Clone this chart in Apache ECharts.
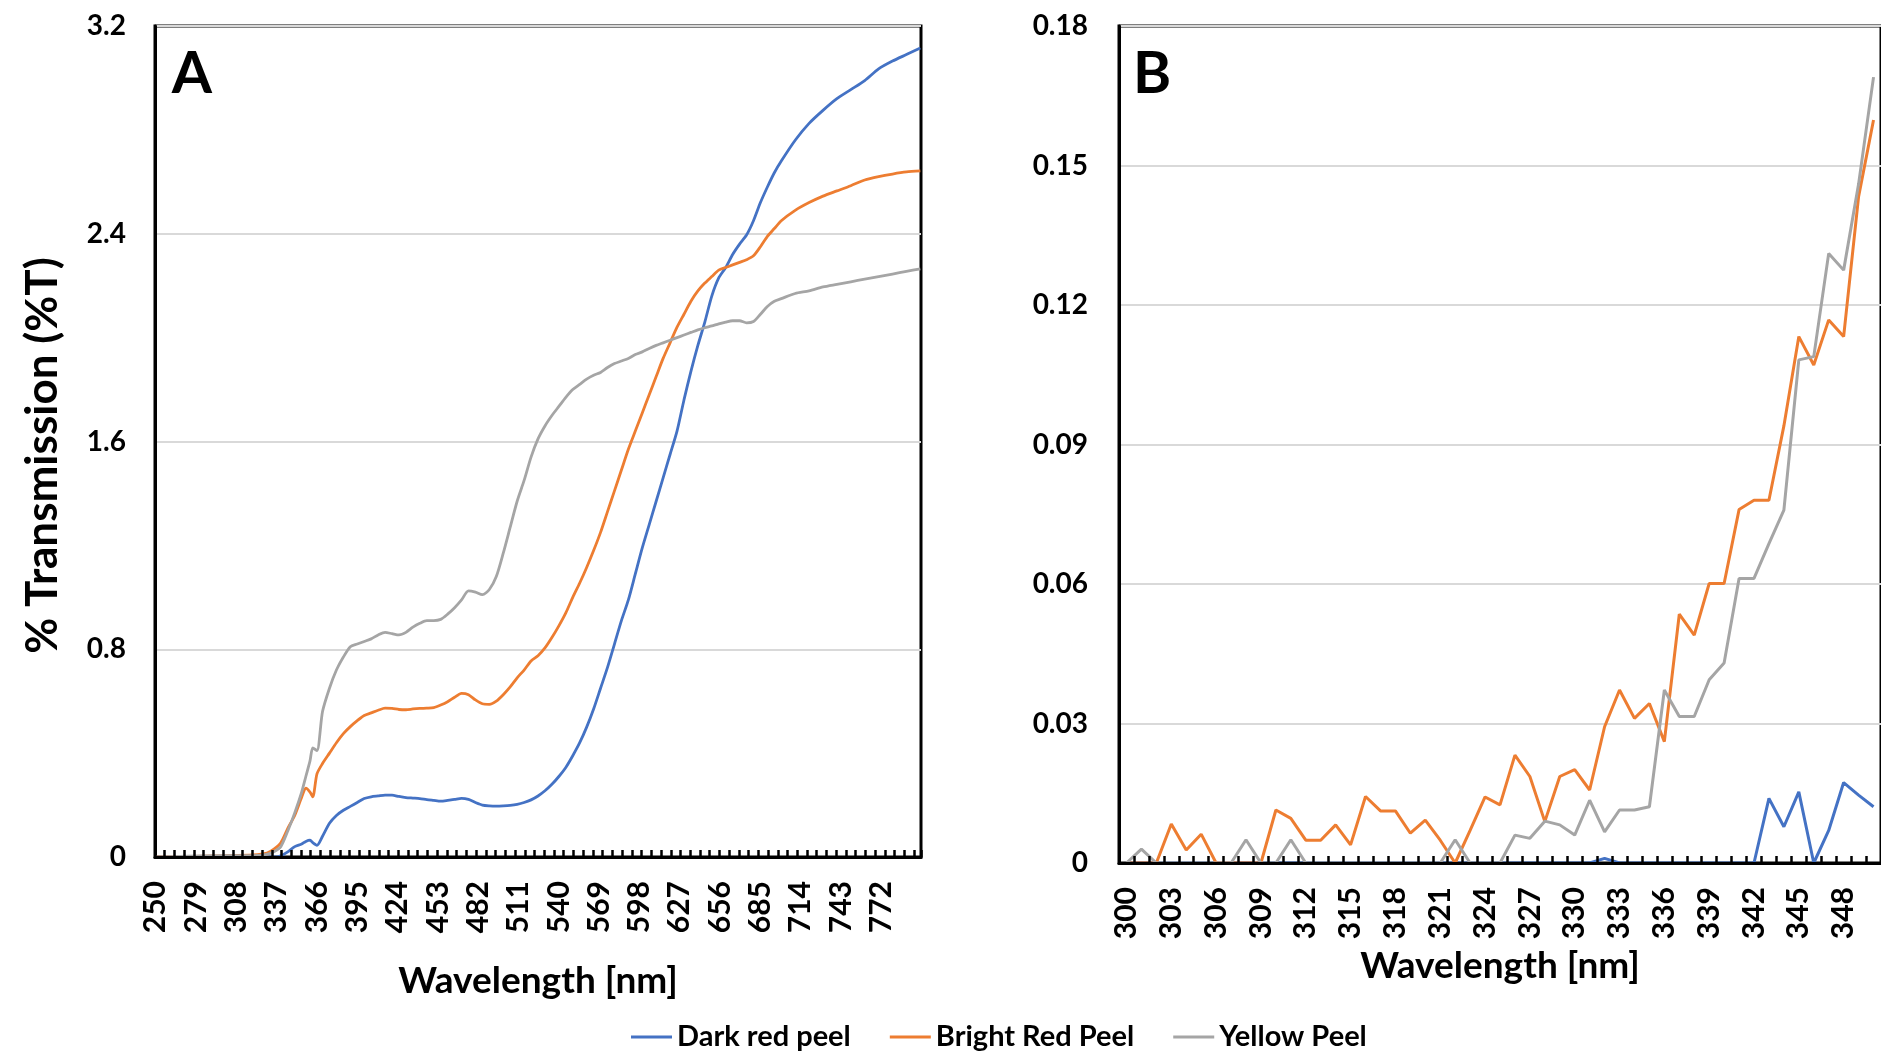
<!DOCTYPE html>
<html>
<head>
<meta charset="utf-8">
<script src="https://cdn.jsdelivr.net/npm/echarts@6/dist/echarts.min.js"></script>
<style>
html,body{margin:0;padding:0;background:#fff;}
#c{width:1881px;height:1053px;}
</style>
</head>
<body>
<div id="c"></div>
<script>
// ---------- DATA ----------
const seriesNames = ['Dark red peel', 'Bright Red Peel', 'Yellow Peel'];
const seriesColors = ['#4472C4', '#ED7D31', '#A5A5A5'];

// Panel A: category axis 250..800 nm (1 nm steps)
const catStartA = 250, catEndA = 800;
const categoriesA = [];
for (let w = catStartA; w <= catEndA; w++) categoriesA.push(String(w));

const waveA = [250,300,320,330,335,340,345,350,355,358,361,363,366,370,375,380,385,390,395,400,
  405,410,415,420,425,430,435,440,445,450,455,460,465,470,475,480,485,490,495,500,
  505,510,515,520,525,530,535,540,545,550,555,560,565,570,575,580,585,590,595,600,
  605,610,615,620,625,630,635,640,645,650,655,660,665,670,675,680,685,690,695,700,
  710,720,730,740,750,760,770,780,790,800];

const darkA = [0,0,0,0,0,0.005,0.02,0.04,0.05,0.06,0.065,0.055,0.045,0.08,0.13,0.16,0.18,0.195,0.21,0.225,
  0.232,0.235,0.238,0.238,0.233,0.229,0.227,0.225,0.221,0.218,0.215,0.218,0.222,0.226,0.222,0.21,0.2,0.197,0.196,0.197,
  0.199,0.203,0.21,0.22,0.235,0.255,0.28,0.31,0.345,0.39,0.44,0.5,0.57,0.65,0.73,0.82,0.91,0.99,1.09,1.19,
  1.28,1.37,1.46,1.55,1.64,1.76,1.87,1.97,2.06,2.16,2.23,2.27,2.32,2.36,2.395,2.45,2.52,2.58,2.635,2.68,
  2.76,2.825,2.875,2.92,2.955,2.99,3.035,3.065,3.09,3.115];

const brightA = [0,0.005,0.008,0.015,0.03,0.055,0.11,0.16,0.23,0.265,0.25,0.232,0.32,0.36,0.4,0.44,0.475,0.502,0.525,0.545,
  0.555,0.565,0.573,0.572,0.568,0.567,0.57,0.572,0.573,0.575,0.585,0.598,0.615,0.63,0.625,0.605,0.59,0.588,0.6,0.625,
  0.655,0.69,0.72,0.755,0.775,0.805,0.845,0.89,0.94,1.0,1.055,1.115,1.18,1.25,1.33,1.41,1.49,1.57,1.64,1.71,
  1.78,1.85,1.92,1.98,2.04,2.09,2.14,2.18,2.21,2.235,2.26,2.27,2.28,2.29,2.3,2.315,2.35,2.39,2.42,2.45,
  2.49,2.52,2.545,2.565,2.585,2.607,2.62,2.63,2.638,2.642];

const yellowA = [0,0.005,0.005,0.01,0.02,0.04,0.1,0.17,0.25,0.31,0.37,0.42,0.41,0.56,0.65,0.72,0.77,0.81,0.82,0.83,
  0.84,0.855,0.865,0.86,0.855,0.865,0.885,0.9,0.91,0.91,0.915,0.935,0.96,0.99,1.025,1.02,1.01,1.03,1.08,1.17,
  1.27,1.37,1.45,1.54,1.61,1.66,1.7,1.735,1.77,1.8,1.82,1.84,1.855,1.866,1.885,1.9,1.91,1.92,1.935,1.945,
  1.958,1.97,1.98,1.99,2.0,2.01,2.02,2.03,2.038,2.045,2.053,2.06,2.065,2.065,2.057,2.062,2.09,2.12,2.14,2.15,
  2.17,2.18,2.195,2.205,2.215,2.225,2.235,2.245,2.255,2.265];

// Panel B: 300..350 nm (1 nm steps)
const categoriesB = ['300','301','302','303','304','305','306','307','308','309','310','311','312','313','314','315','316','317','318','319',
  '320','321','322','323','324','325','326','327','328','329','330','331','332','333','334','335','336','337','338','339',
  '340','341','342','343','344','345','346','347','348','349','350'];

const darkB = [0,0,0,0,0,0,0,0,0,0,0,0,0,0,0,0,0,0,0,0,
  0,0,0,0,0,0,0,0,0,0,0,0,0.001,0,0,0,0,0,0,0,
  0,0,0,0.0139,0.0078,0.0153,0,0.007,0.0173,0.0146,0.0121];

const brightB = [0,0,0,0.0084,0.0028,0.0062,0,0,0,0,0.0114,0.0096,0.0049,0.0049,0.0082,0.0039,0.0143,0.0112,0.0112,0.0064,
  0.0092,0.0049,0,0.007,0.0142,0.0125,0.0232,0.0186,0.0089,0.0186,0.0201,0.0157,0.0293,0.0372,0.0311,0.0343,0.0261,0.0535,0.049,0.0601,
  0.0601,0.076,0.078,0.078,0.094,0.1132,0.1071,0.1168,0.1132,0.1433,0.1598];

const yellowB = [0,0.003,0,0,0,0,0,0,0.005,0,0,0.005,0,0,0,0,0,0,0,0,
  0,0,0.005,0,0,0,0.006,0.0053,0.009,0.0082,0.006,0.0135,0.0067,0.0114,0.0114,0.0121,0.0372,0.0315,0.0315,0.0394,
  0.043,0.0612,0.0612,0.0687,0.0759,0.1082,0.1089,0.1311,0.1275,0.146,0.169];

// axis settings
const yMaxA = 3.2, yStepA = 0.8;
const yMaxB = 0.18, yStepB = 0.03;
const panelLabels = ['A', 'B'];
const xTitle = 'Wavelength [nm]';
const yTitle = '% Transmission (%T)';

// ---------- CHART ----------
const FONT = 'Lato, "Liberation Sans", sans-serif';
const pairs = (w, v) => w.map((x, i) => [String(x), v[i]]);

const chart = echarts.init(document.getElementById('c'), null, {renderer: 'canvas'});

const xAxisCommon = (extra) => Object.assign({
  type: 'category',
  boundaryGap: true,
  z: 5,
  axisLine: {show: true, lineStyle: {color: '#000', width: 3}},
  nameLocation: 'middle',
  nameTextStyle: {fontSize: 37, fontWeight: 'bold', color: '#000', fontFamily: FONT},
  splitLine: {show: false}
}, extra);

const yAxisCommon = (extra) => Object.assign({
  type: 'value',
  min: 0,
  axisLine: {show: true, lineStyle: {color: '#000', width: 3}},
  axisTick: {show: false},
  splitLine: {show: true, lineStyle: {color: '#d9d9d9', width: 2}}
}, extra);

chart.setOption({
  animation: false,
  backgroundColor: '#fff',
  textStyle: {fontFamily: FONT},
  grid: [
    {left: 155, top: 26, width: 766, height: 831, show: true, borderColor: '#000', borderWidth: 3},
    {left: 1119, top: 26, width: 764, height: 837, show: true, borderColor: '#000', borderWidth: 3}
  ],
  xAxis: [
    xAxisCommon({
      gridIndex: 0,
      data: categoriesA,
      axisTick: {show: true, inside: true, length: 7, interval: 6, lineStyle: {color: '#000', width: 2.5}},
      axisLabel: {interval: 28, rotate: 90, margin: 24, fontSize: 30, fontWeight: 'bold', color: '#000', fontFamily: FONT},
      name: xTitle,
      nameGap: 106
    }),
    xAxisCommon({
      gridIndex: 1,
      data: categoriesB,
      axisTick: {show: true, inside: true, length: 7, interval: 0, lineStyle: {color: '#000', width: 2.5}},
      axisLabel: {interval: 2, rotate: 90, margin: 24, fontSize: 30, fontWeight: 'bold', color: '#000', fontFamily: FONT},
      name: xTitle,
      nameGap: 80
    })
  ],
  yAxis: [
    yAxisCommon({
      gridIndex: 0,
      max: yMaxA,
      interval: yStepA,
      axisLabel: {margin: 29, fontSize: 28, fontWeight: 'bold', color: '#000', fontFamily: FONT},
      name: yTitle,
      nameLocation: 'middle',
      nameRotate: 90,
      nameGap: 90,
      nameTextStyle: {fontSize: 44, fontWeight: 'bold', color: '#000', fontFamily: FONT, padding: [0, 28, 0, 0]}
    }),
    yAxisCommon({
      gridIndex: 1,
      max: yMaxB,
      interval: yStepB,
      axisLabel: {margin: 31, fontSize: 28, fontWeight: 'bold', color: '#000', fontFamily: FONT,
        formatter: (v) => String(+v.toFixed(2))}
    })
  ],
  legend: {
    data: seriesNames,
    left: 626,
    top: 1017,
    icon: 'rect',
    itemWidth: 41,
    itemHeight: 3,
    itemGap: 39,
    textStyle: {fontSize: 29, fontWeight: 'bold', color: '#000', fontFamily: FONT, lineHeight: 30}
  },
  graphic: [
    {type: 'text', x: 192, y: 74, z: 10, style: {text: panelLabels[0], fontSize: 58, fontWeight: 'bold', fontFamily: FONT, fill: '#000', align: 'center', verticalAlign: 'middle'}},
    {type: 'text', x: 1152, y: 74, z: 10, style: {text: panelLabels[1], fontSize: 58, fontWeight: 'bold', fontFamily: FONT, fill: '#000', align: 'center', verticalAlign: 'middle'}}
  ],
  series: [
    {name: seriesNames[0], type: 'line', xAxisIndex: 0, yAxisIndex: 0, data: pairs(waveA, darkA), symbol: 'none', smooth: 0.25, color: seriesColors[0], lineStyle: {width: 2.8}},
    {name: seriesNames[1], type: 'line', xAxisIndex: 0, yAxisIndex: 0, data: pairs(waveA, brightA), symbol: 'none', smooth: 0.25, color: seriesColors[1], lineStyle: {width: 2.8}},
    {name: seriesNames[2], type: 'line', xAxisIndex: 0, yAxisIndex: 0, data: pairs(waveA, yellowA), symbol: 'none', smooth: 0.25, color: seriesColors[2], lineStyle: {width: 2.8}},
    {name: seriesNames[0], type: 'line', xAxisIndex: 1, yAxisIndex: 1, data: darkB, symbol: 'none', color: seriesColors[0], lineStyle: {width: 3}},
    {name: seriesNames[1], type: 'line', xAxisIndex: 1, yAxisIndex: 1, data: brightB, symbol: 'none', color: seriesColors[1], lineStyle: {width: 3}},
    {name: seriesNames[2], type: 'line', xAxisIndex: 1, yAxisIndex: 1, data: yellowB, symbol: 'none', color: seriesColors[2], lineStyle: {width: 3}}
  ]
});
</script>
</body>
</html>
